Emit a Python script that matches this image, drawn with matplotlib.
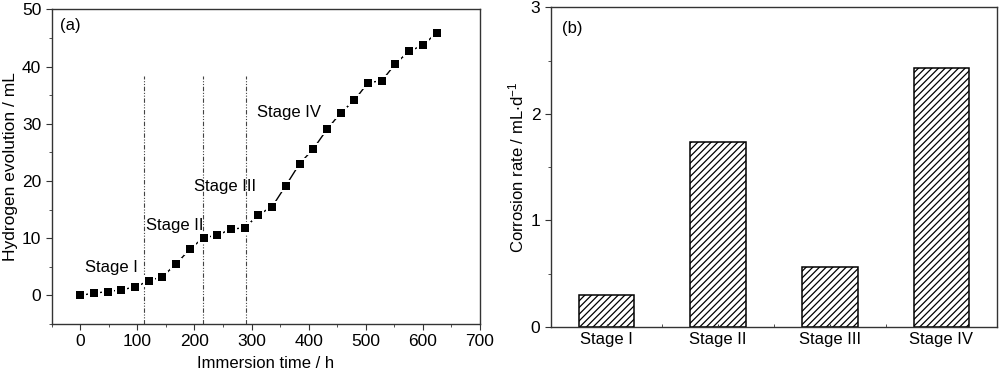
import numpy as np
import matplotlib
matplotlib.use('Agg')
import matplotlib.pyplot as plt
from matplotlib.ticker import MultipleLocator

plt.rcParams['font.family'] = ['Liberation Sans', 'DejaVu Sans']
plt.rcParams['font.size'] = 12
plt.rcParams['mathtext.fontset'] = 'custom'
plt.rcParams['mathtext.rm'] = 'Liberation Sans'
plt.rcParams['mathtext.default'] = 'regular'
plt.rcParams['hatch.linewidth'] = 0.9

# (a) Wasserstoffentwicklung
t = [0, 24, 48, 72, 96, 120, 144, 168, 192, 216, 240, 264, 288, 312,
     336, 360, 384, 408, 432, 456, 480, 504, 528, 552, 576, 600, 624]
vol = [0.0, 0.4, 0.65, 1.0, 1.45, 2.55, 3.3, 5.5, 8.1, 10.1, 10.5, 11.6, 11.8, 14.1,
       15.5, 19.2, 23.0, 25.6, 29.0, 31.9, 34.1, 37.2, 37.5, 40.5, 42.7, 43.7, 45.9]
grenzen = [112, 215, 290]
stage_text = ['Stage I', 'Stage II', 'Stage III', 'Stage IV']
stage_pos = [(8, 4.8), (116, 12.2), (199, 19.1), (310, 32.0)]

# (b) Korrosionsrate
rate = [0.30, 1.74, 0.567, 2.43]

fig = plt.figure(figsize=(10, 3.7), dpi=100)
spine_col = '#333333'

# plot a
ax1 = fig.add_axes([0.0517, 0.1243, 0.4283, 0.8505])
ax1.vlines(grenzen, -5, 38.3, colors='#444444', lw=0.8,
           linestyles=[(0, (4, 1.5, 1, 1.5, 1, 1.5))])
ax1.plot(t, vol, '-', color='black', lw=1.0)
# Luecke zwischen Linie und Symbol (wie Origin)
ax1.plot(t, vol, 's', color='white', markersize=8.5, markeredgewidth=0)
ax1.plot(t, vol, 's', color='black', markersize=5.2, markeredgewidth=0)
for txt, (x, y) in zip(stage_text, stage_pos):
    ax1.text(x, y, txt, ha='left', va='center', fontsize=12)
ax1.text(-35, 47.2, '(a)', ha='left', va='center', fontsize=12)
ax1.set_xlim(-50, 700)
ax1.set_ylim(-5, 50)
ax1.xaxis.set_major_locator(MultipleLocator(100))
ax1.xaxis.set_minor_locator(MultipleLocator(50))
ax1.yaxis.set_major_locator(MultipleLocator(10))
ax1.yaxis.set_minor_locator(MultipleLocator(5))
ax1.set_xlabel('Immersion time / h', labelpad=5, fontsize=12)
ax1.set_ylabel('Hydrogen evolution / mL', labelpad=3, fontsize=12.5)

# plot b
ax2 = fig.add_axes([0.5507, 0.1162, 0.4466, 0.8641])
x = np.arange(len(rate))
ax2.bar(x, rate, width=0.5, color='white', edgecolor='black', lw=1.1, hatch='/////')
ax2.text(-0.4, 2.8, '(b)', ha='left', va='center', fontsize=12)
ax2.set_xlim(-0.5, 3.5)
ax2.set_ylim(0, 3)
ax2.set_xticks(x)
ax2.set_xticklabels(stage_text)
ax2.xaxis.set_minor_locator(MultipleLocator(0.5))
ax2.yaxis.set_major_locator(MultipleLocator(1))
ax2.yaxis.set_minor_locator(MultipleLocator(0.5))
ax2.set_ylabel(r'Corrosion rate / mL$\cdot$d$^{-1}$', labelpad=3, fontsize=12)

for ax in (ax1, ax2):
    for s in ax.spines.values():
        s.set_color(spine_col)
        s.set_linewidth(1.0)
    ax.tick_params(which='both', direction='out', color=spine_col, top=False, right=False,
                   labelsize=12.5)
    ax.tick_params(which='major', length=4)
    ax.tick_params(which='minor', length=2.5)
ax2.tick_params(axis='x', which='both', direction='in', length=2, labelsize=12)

plt.savefig('out.png', dpi=100)
